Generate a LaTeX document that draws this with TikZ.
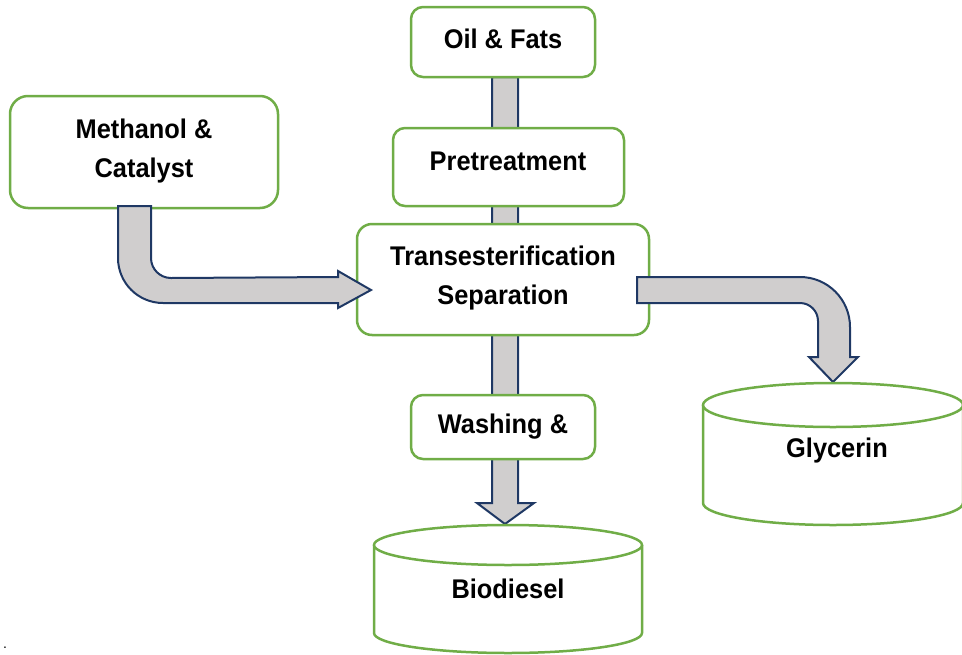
\documentclass[tikz,border=0pt]{standalone}
\usepackage{fontspec}
\setmainfont{Liberation Sans}
\newfontfamily\lblfont[FakeStretch=0.94]{Liberation Sans}
\usetikzlibrary{calc}
\definecolor{grn}{HTML}{70AD47}
\definecolor{navy}{HTML}{1F3864}
\definecolor{pipe}{HTML}{D0CECE}
\begin{document}
\begin{tikzpicture}[x=1pt,y=-1pt,
  box/.style={draw=grn, line width=2.5pt, fill=white, rounded corners=12pt, inner sep=0pt, outer sep=0pt},
  lbl/.style={font=\lblfont\bfseries\fontsize{27}{39}\selectfont, align=center, inner sep=0pt, text=black},
  blockarrow/.style={draw=navy, fill=pipe, line width=2pt, line join=miter},
  tank/.style={draw=grn, line width=2.5pt, fill=white}]
\useasboundingbox (0,0) rectangle (962,654);
\begin{scope}
\clip (0,0) rectangle (962,654);
% named key points
\coordinate (oilbot) at (505,77);
\coordinate (biotip) at (505,524);
\coordinate (glytip) at (833,382);
% vertical pipe (behind the boxes): Oil & Fats -> Biodiesel
\draw[blockarrow] ($(oilbot)+(-13,0)$) -- ($(oilbot)+(13,0)$) -- ($(biotip)+(13,-21)$)
  -- ($(biotip)+(29,-21)$) -- (biotip) -- ($(biotip)+(-28,-21)$) -- ($(biotip)+(-13,-21)$) -- cycle;
% boxes
\node[box, minimum width=184pt, minimum height=70pt] (oil) at (503,42) {};
\node[box, minimum width=231pt, minimum height=78pt] (pre) at (508.5,167) {};
\node[box, minimum width=268pt, minimum height=112pt, rounded corners=18pt] (meth) at (144,152) {};
\node[box, minimum width=292pt, minimum height=111pt, rounded corners=15pt] (trans) at (503,279.5) {};
\node[box, minimum width=184pt, minimum height=64pt] (wash) at (503,427) {};
% labels
\node[lbl] (oilt) at (503,39) {Oil \& Fats};
\node[lbl] (pret) at (508,161) {Pretreatment};
\node[lbl] (metht) at (144,151) {Methanol \&\\Catalyst};
\node[lbl] (transt) at (503,278.5) {Transesterification\\Separation};
\node[lbl] (washt) at (503,427) {Washing \&};
% bent arrow: Methanol & Catalyst -> Transesterification
\draw[blockarrow] (118,206) -- (151,206) -- (151,258)
  arc[start angle=180, end angle=270, radius=20pt] -- (338,277) -- (338,271)
  -- (371,290) -- (338,308) -- (338,303) -- (163,303)
  arc[start angle=270, end angle=180, radius=45pt] -- cycle;
% bent arrow: Transesterification -> Glycerin
\draw[blockarrow] (637,277) -- (800,277)
  arc[start angle=90, end angle=0, radius=50pt] -- (850,357) -- (858,357)
  -- (glytip) -- (809,357) -- (818,357) -- (818,321)
  arc[start angle=0, end angle=90, radius=18pt] -- (637,303) -- cycle;
% tank: Biodiesel
\path[fill=white] (374,545) -- (374,633) arc[start angle=180, end angle=360, x radius=134pt, y radius=20pt] -- (642,545) -- cycle;
\draw[tank, fill=none] (374,545) -- (374,633) arc[start angle=180, end angle=360, x radius=134pt, y radius=20pt] -- (642,545);
\draw[tank] (508,545) ellipse[x radius=134pt, y radius=20pt];
\node[lbl] (bio) at (508,589) {Biodiesel};
% tank: Glycerin
\path[fill=white] (703,405) -- (703,503) arc[start angle=180, end angle=360, x radius=130pt, y radius=22pt] -- (963,405) -- cycle;
\draw[tank, fill=none] (703,405) -- (703,503) arc[start angle=180, end angle=360, x radius=130pt, y radius=22pt] -- (963,405);
\draw[tank] (833,405) ellipse[x radius=130pt, y radius=22pt];
\node[lbl] (gly) at (837,451) {Glycerin};
% stray period
\node[inner sep=0pt, font=\fontsize{14}{16}\selectfont] (dot) at (5,648) {.};
\end{scope}
\end{tikzpicture}
\end{document}
